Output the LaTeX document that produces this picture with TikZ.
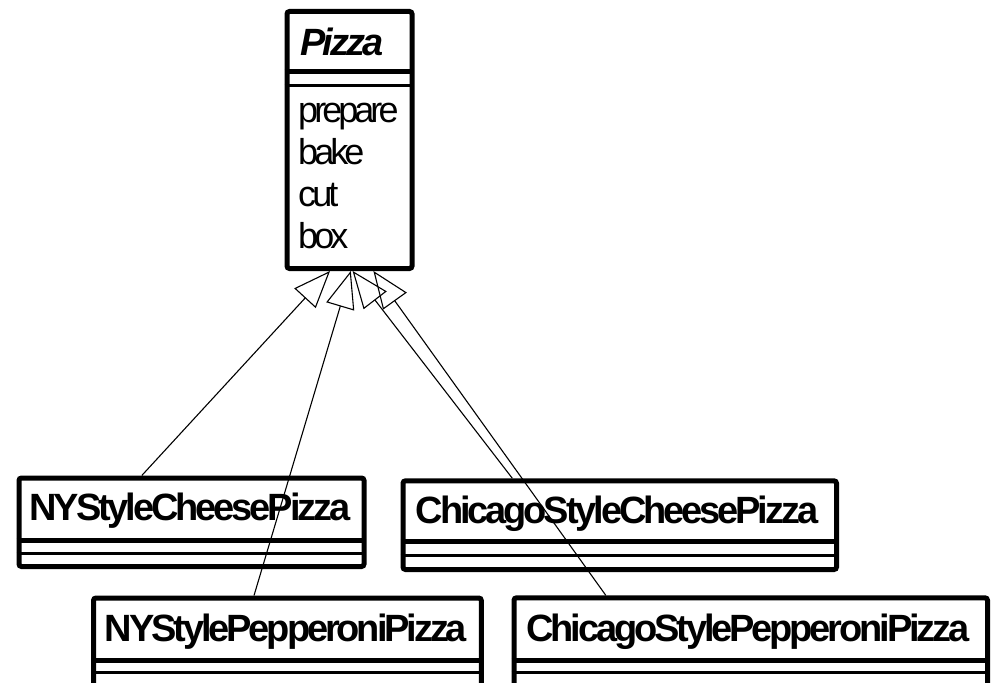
\documentclass[tikz,border=0pt]{standalone}
\usepackage{fontspec}
\setmainfont{Liberation Sans}
\newfontfamily\clsfont[LetterSpace=-8.2]{Liberation Sans}
\newfontfamily\opfont[LetterSpace=-11]{Liberation Sans}
\usetikzlibrary{arrows.meta,calc}
\begin{document}
\begin{tikzpicture}[x=1pt,y=-1pt,
  frame/.style={draw=black,line width=5pt,rounded corners=2.5pt,inner sep=0pt,anchor=north west,fill=white},
  sepa/.style={draw=black,line width=5pt},
  sepb/.style={draw=black,line width=3pt},
  clsname/.style={inner sep=0pt,anchor=base,font=\clsfont\bfseries\fontsize{38}{42}\selectfont},
  absname/.style={inner sep=0pt,anchor=base,font=\clsfont\bfseries\itshape\fontsize{38}{42}\selectfont},
  opname/.style={inner sep=0pt,anchor=base west,font=\opfont\fontsize{36}{40}\selectfont},
  gen/.style={draw=black,line width=1.1pt,-{Triangle[open,length=37pt,width=29pt]}}]
\useasboundingbox (0,0) rectangle (992,682);
\fill[white] (0,0) rectangle (992,682);
% Pizza
\node[frame,minimum width=125pt,minimum height=257pt] (pizza) at (284.5,9) {};
\draw[sepa] (284.5,72) -- (409.5,72);
\draw[sepb] (284.5,85.5) -- (409.5,85.5);
\node[absname] (pizzaname) at (342,56) {Pizza};
\node[opname] (prepare) at (298,122) {prepare};
\node[opname] (bake) at (298,164) {bake};
\node[opname] (cut) at (298,206) {cut};
\node[opname] (box) at (298,248) {box};
% NYStyleCheesePizza
\node[frame,minimum width=345pt,minimum height=88.5pt] (nycheese) at (16.5,475.5) {};
\draw[sepa] (16.5,540) -- (361.5,540);
\draw[sepb] (16.5,553) -- (361.5,553);
\node[clsname] (nycheesename) at (190,520) {NYStyleCheesePizza};
% ChicagoStyleCheesePizza
\node[frame,minimum width=433.5pt,minimum height=88.7pt] (chcheese) at (400.5,478.3) {};
\draw[sepa] (400.5,541.7) -- (834,541.7);
\draw[sepb] (400.5,555.3) -- (834,555.3);
\node[clsname] (chcheesename) at (617,523) {ChicagoStyleCheesePizza};
% NYStylePepperoniPizza
\node[frame,minimum width=387.8pt,minimum height=89pt] (nypep) at (91,595.5) {};
\draw[sepa] (91,660) -- (478.8,660);
\draw[sepb] (91,672.3) -- (478.8,672.3);
\node[clsname] (nypepname) at (286,641) {NYStylePepperoniPizza};
% ChicagoStylePepperoniPizza
\node[frame,minimum width=473.5pt,minimum height=89pt] (chpep) at (511.5,595.3) {};
\draw[sepa] (511.5,660) -- (985,660);
\draw[sepb] (511.5,672.3) -- (985,672.3);
\node[clsname] (chpepname) at (748,641) {ChicagoStylePepperoniPizza};
% generalisations
\draw[gen] ($(nycheese.north west)!0.358!(nycheese.north east)$) -- ($(pizza.south west)!0.35!(pizza.south east)$);
\draw[gen] ($(nypep.north west)!0.415!(nypep.north east)$) -- ($(pizza.south west)!0.51!(pizza.south east)$);
\draw[gen] ($(chcheese.north west)!0.255!(chcheese.north east)$) -- ($(pizza.south west)!0.524!(pizza.south east)$);
\draw[gen] ($(chpep.north west)!0.197!(chpep.north east)$) -- ($(pizza.south west)!0.684!(pizza.south east)$);
\end{tikzpicture}
\end{document}
